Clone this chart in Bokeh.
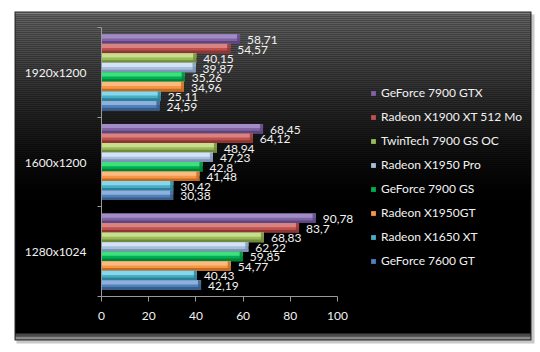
from bokeh.plotting import figure
from bokeh.models import (Range1d, FixedTicker, BoxAnnotation, Legend, LegendItem,
                          ColumnDataSource, LinearAxis)
from bokeh.embed import file_html
from bokeh.resources import INLINE
from bokeh.core.properties import value

# ---------------- data ----------------
resolutions = ["1280x1024", "1600x1200", "1920x1200"]
series = ["GeForce 7900 GTX", "Radeon X1900 XT 512 Mo", "TwinTech 7900 GS OC",
          "Radeon X1950 Pro", "GeForce 7900 GS", "Radeon X1950GT",
          "Radeon X1650 XT", "GeForce 7600 GT"]
gf7900gtx = [90.78, 68.45, 58.71]
x1900xt = [83.7, 64.12, 54.57]
twintech = [68.83, 48.94, 40.15]
x1950pro = [62.22, 47.23, 39.87]
gf7900gs = [59.85, 42.8, 35.26]
x1950gt = [54.77, 41.48, 34.96]
x1650xt = [40.43, 30.42, 25.11]
gf7600gt = [42.19, 30.38, 24.59]
x_ticks = [0, 20, 40, 60, 80, 100]

values_all = [gf7900gtx, x1900xt, twintech, x1950pro, gf7900gs, x1950gt, x1650xt, gf7600gt]

# ---------------- styles ----------------
main_colors = ["#8064a2", "#c0504d", "#9bbb59", "#a9bedb", "#00b050", "#f79646", "#4bacc6", "#4f81bd"]
light_colors = ["#a28cc8", "#d98380", "#c6de8e", "#d3e3f7", "#3ee07e", "#fbbb80", "#85d8ec", "#8fb0dc"]
dark_colors = ["#5c4682", "#8c3735", "#718a3c", "#7f95b6", "#00843c", "#c46b22", "#2a8198", "#385d8a"]
FONT = "Lato"
TXT = "#f2f2f2"
AXC = "#9a9a9a"

W, H = 540, 352
# plot area in canvas pixels: x 0..100 -> 101..337, y -0.5..2.5 -> 296..27
X0, X1, Y0, Y1 = 101, 337, 296, 27
sx = (X1 - X0) / 100.0
sy = (Y0 - Y1) / 3.0
x_range = Range1d(0 - X0 / sx, 100 + (W - X1) / sx)
y_range = Range1d(-0.5 - (H - Y0) / sy, 2.5 + Y1 / sy)

p = figure(width=W, height=H, output_backend="svg", toolbar_location=None,
           x_range=x_range, y_range=y_range,
           x_axis_location=None, y_axis_location=None,
           min_border=0, min_border_left=0, min_border_right=0,
           min_border_top=0, min_border_bottom=0)
p.border_fill_color = "white"
p.background_fill_color = "white"
p.outline_line_color = None
p.xgrid.visible = False
p.ygrid.visible = False

# ---------------- panel background (gradient strips) ----------------
def box(l, r, t, b, color, level="image"):
    return BoxAnnotation(left=l, right=r, top=t, bottom=b,
                         left_units="canvas", right_units="canvas",
                         top_units="canvas", bottom_units="canvas",
                         fill_color=color, fill_alpha=1.0, line_color=None, level=level)

PL, PR, PT, PB = 14, 531, 11, 340
p.add_layout(box(PL + 2, PR + 3, PT + 3, PB + 3, "#c8c8c8"))  # shadow
p.add_layout(box(PL, PR, PT, PB, "#2a2a2a"))  # border
p.add_layout(box(PL + 1, PR - 1, PT + 1, PB - 1, "#000000"))
p.add_layout(box(PL + 1, PR - 1, PB - 7, PB - 4, "#4a4a4a"))
p.add_layout(box(PL + 1, PR - 1, PB - 4, PB - 1, "#8a8a8a"))
p.add_layout(box(PL + 1, PR - 1, PT + 1, PT + 3, "#7c7c7c"))
yy = PT + 3
while yy < 200:
    t = (yy - (PT + 3)) / (200 - PT - 3)
    v = int(round(98 * (1 - t) ** 1.4))
    p.add_layout(box(PL + 1, PR - 1, yy, yy + 2, "#%02x%02x%02x" % (v, v, v)))
    yy += 2

# ---------------- bars ----------------
n = len(series)
group = 0.85
h = group / n
renderers = []
for i, (name, vals) in enumerate(zip(series, values_all)):
    ys = [j + group / 2 - h * (i + 0.5) for j in range(len(resolutions))]
    src = ColumnDataSource(dict(
        y=ys, v=vals,
        yt=[c + h * 0.28 for c in ys], yb=[c - h * 0.36 for c in ys],
        cap=[max(x - 1.3, 0) for x in vals],
        lab=[str(x).replace(".", ",") for x in vals]))
    r = p.hbar(y="y", left=0, right="v", height=h, source=src,
               fill_color=main_colors[i], line_color=None)
    p.hbar(y="yt", left=0, right="v", height=h * 0.44, source=src,
           fill_color=light_colors[i], line_color=None)
    p.hbar(y="yb", left=0, right="v", height=h * 0.28, source=src,
           fill_color=dark_colors[i], line_color=None)
    p.hbar(y="y", left="cap", right="v", height=h, source=src,
           fill_color=dark_colors[i], fill_alpha=0.8, line_color=None)
    p.text(x="v", y="y", text="lab", source=src, x_offset=7, y_offset=1,
           text_baseline="middle", text_align="left",
           text_font=value(FONT), text_font_size="12px", text_color=TXT)
    renderers.append(r)

# ---------------- axes ----------------
xaxis = LinearAxis(fixed_location=-0.5, bounds=(0, 100), ticker=FixedTicker(ticks=x_ticks))
xaxis.axis_line_color = AXC
xaxis.major_tick_line_color = AXC
xaxis.major_tick_in = 0
xaxis.major_tick_out = 5
xaxis.minor_tick_line_color = None
xaxis.major_label_standoff = 10
xaxis.major_label_text_color = TXT
xaxis.major_label_text_font = FONT
xaxis.major_label_text_font_size = "12px"
p.add_layout(xaxis, "below")

yaxis = LinearAxis(fixed_location=0, bounds=(-0.5, 2.5),
                   ticker=FixedTicker(ticks=[0, 1, 2], minor_ticks=[-0.5, 0.5, 1.5, 2.5]))
yaxis.major_label_overrides = {i: r for i, r in enumerate(resolutions)}
yaxis.axis_line_color = AXC
yaxis.major_tick_in = 0
yaxis.major_tick_out = 0
yaxis.minor_tick_in = 0
yaxis.minor_tick_out = 4
yaxis.minor_tick_line_color = AXC
yaxis.major_label_standoff = 11
yaxis.major_label_text_color = TXT
yaxis.major_label_text_font = FONT
yaxis.major_label_text_font_size = "12px"
p.add_layout(yaxis, "left")

# ---------------- legend ----------------
legend = Legend(items=[LegendItem(label=s, renderers=[r]) for s, r in zip(series, renderers)],
                location=(370, 84), orientation="vertical",
                glyph_width=6, glyph_height=6, label_height=14, spacing=9,
                label_standoff=5, padding=0, margin=0,
                background_fill_alpha=0, border_line_color=None,
                label_text_font=FONT, label_text_font_size="12px", label_text_color=TXT)
p.add_layout(legend, "center")

open("out.html", "w").write(file_html(p, INLINE))
